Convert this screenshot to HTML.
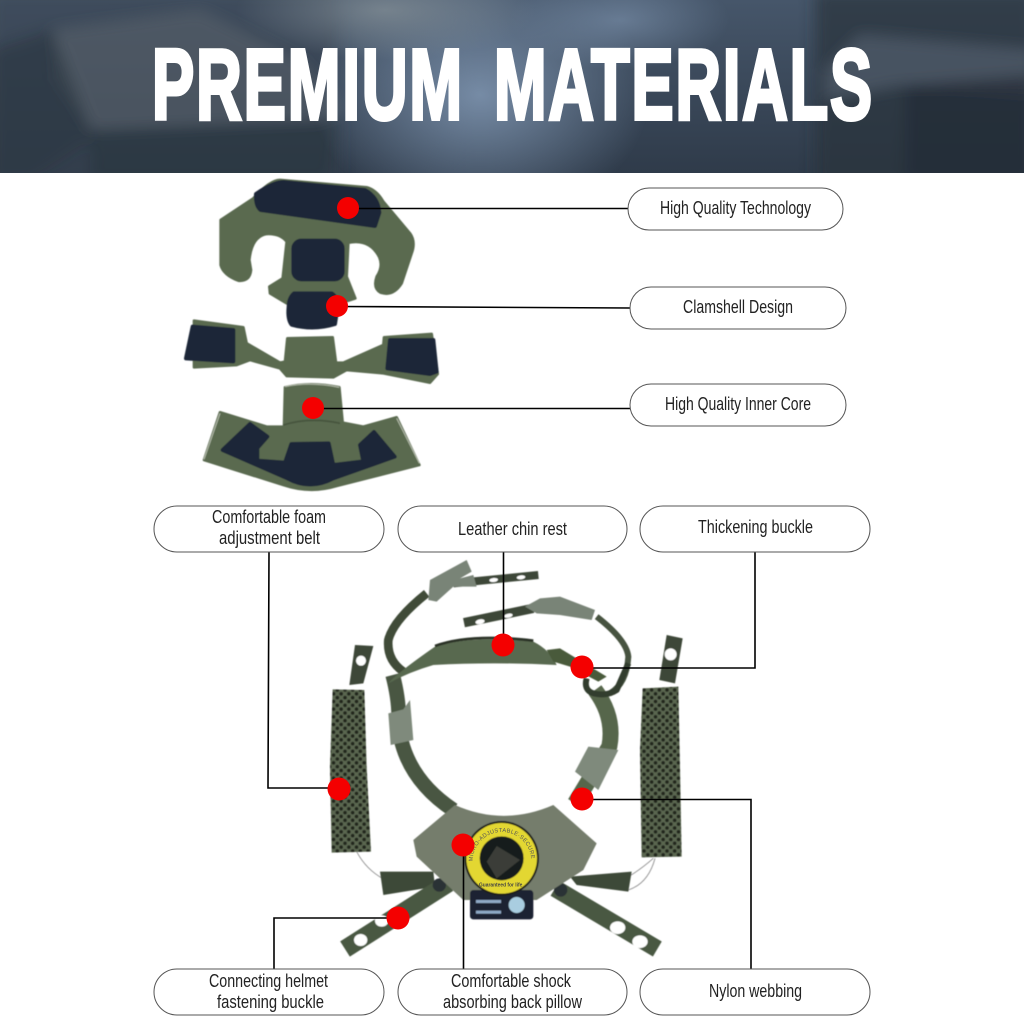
<!DOCTYPE html>
<html><head><meta charset="utf-8"><style>html,body{margin:0;padding:0;background:#fff}svg{display:block}text{font-family:"Liberation Sans",sans-serif}</style></head><body>
<svg xmlns="http://www.w3.org/2000/svg" width="1024" height="1024" viewBox="0 0 1024 1024">
<defs>
<linearGradient id="h" x1="0" x2="0" y1="0" y2="1"><stop offset="0" stop-color="#46566a"/><stop offset="1" stop-color="#2f3b4a"/></linearGradient>
<radialGradient id="g1" cx=".5" cy=".5" r=".5"><stop offset="0" stop-color="#7d93ae" stop-opacity=".9"/><stop offset="1" stop-color="#7d93ae" stop-opacity="0"/></radialGradient>
<radialGradient id="g2" cx=".5" cy=".5" r=".5"><stop offset="0" stop-color="#7d8992" stop-opacity=".85"/><stop offset="1" stop-color="#7d8992" stop-opacity="0"/></radialGradient>
<filter id="b3" x="-10%" y="-10%" width="120%" height="120%"><feGaussianBlur stdDeviation="7"/></filter>
<filter id="b1"><feGaussianBlur stdDeviation="1.5"/></filter>
<pattern id="mesh" width="23" height="23" patternUnits="userSpaceOnUse"><rect width="23" height="23" fill="#5a6650"/><circle cx="6" cy="6" r="5.500" fill="#20261c"/><circle cx="17.500" cy="17.500" r="5.500" fill="#20261c"/></pattern>
<path id="ringtext" d="M462 960 A88 88 0 1 1 630 960"/>
</defs>
<rect width="1024" height="173" fill="url(#h)"/>
<g filter="url(#b3)">
<rect x="-10" y="-10" width="350" height="195" fill="#35414e" opacity=".5"/>
<rect x="815" y="-10" width="220" height="195" fill="#29323d" opacity=".7"/>
<path d="M52 30 L200 10 L300 60 L345 110 L320 120 L90 130 L55 80Z" fill="#5c6670" opacity=".55"/>
<path d="M-10 50 L52 30 L95 140 L30 183 L-10 183Z" fill="#2e3a44" opacity=".7"/>
<path d="M90 130 L340 120 L330 183 L90 183Z" fill="#2a3540" opacity=".6"/>
<path d="M825 70 L860 35 L1034 50 L1034 95 L900 85 L825 100Z" fill="#5a6672" opacity=".6"/>
<path d="M905 85 L1034 75 L1034 183 L905 183Z" fill="#232b35" opacity=".7"/>
</g>
<ellipse cx="480" cy="95" rx="170" ry="130" fill="url(#g1)"/>
<ellipse cx="385" cy="10" rx="150" ry="50" fill="url(#g2)"/>
<ellipse cx="620" cy="20" rx="110" ry="50" fill="url(#g1)" opacity=".7"/>
<g font-size="100" font-weight="700" fill="#fff" stroke="#fff" stroke-width="4">
<text x="152" y="119" letter-spacing="3" textLength="312" lengthAdjust="spacingAndGlyphs">PREMIUM</text>
<text x="494" y="119" letter-spacing="3" textLength="380" lengthAdjust="spacingAndGlyphs">MATERIALS</text>
</g>
<rect y="173" width="1024" height="851" fill="#fff"/>

<!-- foam pads -->
<g transform="translate(170 170) scale(.33333)" filter="url(#b1)" stroke-linejoin="round">
<g fill="#5a6a50" stroke="#5a6a50" stroke-width="8">
<path d="M152 150 L250 85 Q300 30 330 30 L590 52 Q620 60 640 95 L720 190 Q738 215 725 250 L695 340 Q670 380 632 368 Q608 355 620 320 Q640 290 628 262 Q600 205 535 218 L530 320 L556 385 L510 400 L350 400 L300 370 L298 350 L338 325 L350 215 Q330 190 290 192 Q245 200 238 270 L243 300 Q240 335 205 332 Q160 315 152 285Z"/>
<path d="M72 452 L220 472 L230 520 L330 578 L345 575 L352 505 L488 502 L498 578 L520 578 L640 525 L642 502 L785 492 L803 612 L780 638 L640 610 L530 600 L490 622 L350 618 L330 595 L240 570 L200 585 L72 592Z"/>
<path d="M345 652 Q420 634 508 652 L518 758 L580 770 L680 742 L748 885 L500 948 Q420 972 340 945 L102 870 L150 727 L290 770 L342 770Z"/>
</g>
<path d="M102 868 L150 730 M748 880 L680 745 M345 650 Q420 634 508 652" fill="none" stroke="#b8bfae" stroke-width="3"/>
<path d="M340 765 Q420 740 510 760" fill="none" stroke="#46543e" stroke-width="5"/>
<g fill="#1f2838" stroke="#1f2838" stroke-width="12">
<path d="M258 72 Q310 36 340 36 L585 60 Q625 82 628 128 L615 168 L272 120 Q256 108 258 72Z"/>
<rect x="370" y="212" width="148" height="116" rx="24"/>
<path d="M372 370 L485 370 Q503 382 503 410 L495 462 Q430 482 365 464 Q352 448 356 410 Q356 384 372 370Z"/>
<path d="M68 470 L190 480 L190 574 L48 565Z"/>
<path d="M660 510 L790 510 L800 605 L780 612 L652 595Z"/>
<path d="M240 762 L292 800 L262 834 L262 872 L345 878 L364 822 L476 820 L490 885 L580 874 L570 825 L612 786 L674 860 L490 925 Q420 962 352 925 L158 840Z"/>
</g>
</g>

<!-- harness -->
<g transform="translate(320 550) scale(.33333)" stroke-linejoin="round">
<g filter="url(#b1)">
<path d="M105 285 L160 288 L130 400 L88 405Z" fill="#3d4737"/><circle cx="123" cy="332" r="15" fill="#fff"/>
<path d="M1040 255 L1088 265 L1065 400 L1018 390Z" fill="#3d4737"/><circle cx="1052" cy="313" r="18" fill="#fff"/>
<path d="M38 418 L133 420 L140 650 L153 905 L35 908 L30 650Z" fill="url(#mesh)"/>
<path d="M968 415 L1075 410 L1080 650 L1085 920 L965 922 L960 600Z" fill="url(#mesh)"/>
<path d="M110 905 Q150 980 235 1005 M1005 925 Q985 1000 925 1020 M1000 925 Q960 960 925 980" fill="none" stroke="#888" stroke-width="2.500"/>
<path d="M320 130 Q220 210 205 270 Q200 330 250 365" fill="none" stroke="#3f4b38" stroke-width="26"/>
<path d="M830 200 Q920 270 925 320 Q920 400 870 430" fill="none" stroke="#46523f" stroke-width="18"/>
<path d="M218 375 Q240 460 235 520 Q250 680 400 780" fill="none" stroke="#4a5742" stroke-width="44"/>
<path d="M825 420 Q885 500 868 590 L765 760" fill="none" stroke="#57664c" stroke-width="48"/>
<path d="M345 290 Q450 255 640 275 Q690 300 710 345 Q520 335 340 345 Q270 365 205 400 Q230 370 345 290Z" fill="#59694f"/>
<path d="M345 288 Q450 250 640 272" fill="none" stroke="#2a3226" stroke-width="8"/>
<path d="M680 300 L720 295 L860 380 L835 395 L750 350 L700 335Z" fill="#4a5a3b"/>
<path d="M800 385 Q790 420 820 430 Q860 440 890 420 L925 340" fill="none" stroke="#333c2d" stroke-width="18"/>
<!-- top buckles -->
<path d="M400 100 L655 75" fill="none" stroke="#3d4737" stroke-width="24"/>
<path d="M330 90 L440 30 L455 65 L420 85 L460 75 L470 110 L400 110 L350 155 L325 150Z" fill="#798477"/>
<ellipse cx="521" cy="90" rx="13" ry="6" fill="#fff" transform="rotate(-6 521 90)"/><ellipse cx="603" cy="82" rx="13" ry="6" fill="#fff" transform="rotate(-6 603 82)"/>
<path d="M432 218 L640 175" fill="none" stroke="#3d4737" stroke-width="28"/>
<path d="M615 170 L660 145 L720 140 L825 180 L815 210 L720 195 L650 190Z" fill="#798477"/>
<ellipse cx="480" cy="215" rx="14" ry="7" fill="#fff" transform="rotate(-12 480 215)"/><ellipse cx="565" cy="197" rx="13" ry="6" fill="#fff" transform="rotate(-12 565 197)"/>
<!-- side buckles -->
<path d="M205 490 L250 478 L270 450 L280 570 L212 585Z" fill="#7f8a7c"/>
<path d="M805 590 L895 600 L850 690 L835 720 L765 665Z" fill="#7f8a7c"/>
<!-- rear straps -->
<path d="M180 965 L340 965 L345 1010 L190 1035Z" fill="#3e4a37"/>
<path d="M750 980 L935 965 L925 1025 L770 1005Z" fill="#3e4a37"/>
<path d="M385 1000 L75 1197" stroke="#4a5842" stroke-width="54" fill="none"/>
<path d="M705 1015 L1012 1197" stroke="#4a5842" stroke-width="52" fill="none"/>
<ellipse cx="122" cy="1170" rx="20" ry="18" fill="#fff"/><ellipse cx="185" cy="1113" rx="20" ry="17" fill="#fff"/>
<ellipse cx="893" cy="1133" rx="23" ry="19" fill="#fff"/><ellipse cx="960" cy="1175" rx="23" ry="19" fill="#fff"/>
<circle cx="358" cy="1005" r="20" fill="#2b3035"/><circle cx="722" cy="1020" r="20" fill="#2b3035"/>
<!-- back pillow -->
<path d="M405 765 Q550 830 700 765 L830 880 L790 960 L650 1050 L430 1050 L290 920 L280 870Z" fill="#757d6c"/>
<rect x="450" y="1020" width="190" height="88" rx="10" fill="#1c2433"/>
<circle cx="545" cy="925" r="112" fill="#1b1f1c"/>
<circle cx="545" cy="925" r="106" fill="#e3d733"/>
<circle cx="545" cy="925" r="66" fill="#191c1a"/>
<path d="M530 888 L600 930 L530 985 L500 935Z" fill="#3a3d38"/>
<circle cx="590" cy="1065" r="24" fill="#a9cde0"/>
<rect x="468" y="1050" width="75" height="9" fill="#8fa9c6"/><rect x="468" y="1082" width="75" height="9" fill="#8fa9c6"/>
</g>
<text font-size="17" fill="#555" letter-spacing="1"><textPath href="#ringtext" startOffset="8%">MICRO-ADJUSTABLE·SECURE</textPath></text>
<text x="542" y="1009" font-size="17" font-weight="700" text-anchor="middle" fill="#444" textLength="130" lengthAdjust="spacingAndGlyphs">Guaranteed for life</text>
</g>

<!-- connectors -->
<g fill="none" stroke="#000" stroke-width="1.6">
<path d="M348 208.500H628"/><path d="M337 306.500L630 308"/><path d="M313 408.500H630"/>
<path d="M503.500 552V645"/><path d="M755 552V668H582"/>
<path d="M269 552L268 788H339"/><path d="M582 799.500H751V969"/>
<path d="M463.500 845V969"/><path d="M274 969V918H398"/>
</g>
<g fill="#f40000">
<circle cx="348" cy="208" r="11"/><circle cx="337" cy="306" r="11"/><circle cx="313" cy="408" r="11"/>
<circle cx="503" cy="645" r="11.500"/><circle cx="582" cy="667" r="11.500"/><circle cx="339" cy="789" r="11.500"/>
<circle cx="582" cy="799" r="11.500"/><circle cx="463" cy="845" r="11.500"/><circle cx="398" cy="918" r="11.500"/>
</g>

<!-- pills -->
<g fill="#fff" stroke="#555" stroke-width="1">
<rect x="628" y="188" width="215" height="42" rx="21"/>
<rect x="630" y="287" width="216" height="42" rx="21"/>
<rect x="630" y="384" width="216" height="42" rx="21"/>
<rect x="154" y="506" width="230" height="46" rx="23"/>
<rect x="398" y="506" width="229" height="46" rx="23"/>
<rect x="640" y="506" width="230" height="46" rx="23"/>
<rect x="154" y="969" width="230" height="46" rx="23"/>
<rect x="398" y="969" width="229" height="46" rx="23"/>
<rect x="640" y="969" width="230" height="46" rx="23"/>
</g>
<g font-size="18" fill="#222">
<text x="660" y="214" textLength="151" lengthAdjust="spacingAndGlyphs">High Quality Technology</text>
<text x="683" y="313" textLength="110" lengthAdjust="spacingAndGlyphs">Clamshell Design</text>
<text x="665" y="410" textLength="146" lengthAdjust="spacingAndGlyphs">High Quality Inner Core</text>
<text x="212" y="523" textLength="114" lengthAdjust="spacingAndGlyphs">Comfortable foam</text>
<text x="219" y="544" textLength="101" lengthAdjust="spacingAndGlyphs">adjustment belt</text>
<text x="458" y="535" textLength="109" lengthAdjust="spacingAndGlyphs">Leather chin rest</text>
<text x="698" y="533" textLength="115" lengthAdjust="spacingAndGlyphs">Thickening buckle</text>
<text x="209" y="987" textLength="119" lengthAdjust="spacingAndGlyphs">Connecting helmet</text>
<text x="217" y="1008" textLength="107" lengthAdjust="spacingAndGlyphs">fastening buckle</text>
<text x="451" y="987" textLength="120" lengthAdjust="spacingAndGlyphs">Comfortable shock</text>
<text x="443" y="1008" textLength="139" lengthAdjust="spacingAndGlyphs">absorbing back pillow</text>
<text x="709" y="997" textLength="93" lengthAdjust="spacingAndGlyphs">Nylon webbing</text>
</g>
</svg>
</body></html>
